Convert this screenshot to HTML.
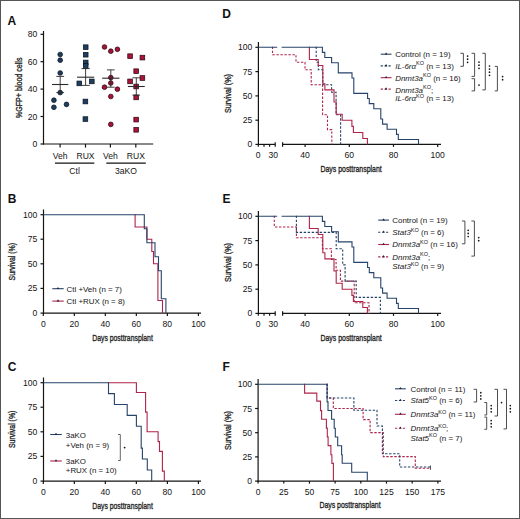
<!DOCTYPE html>
<html><head><meta charset="utf-8"><style>
html,body{margin:0;padding:0;background:#fff;overflow:hidden;width:520px;height:519px;}
svg{display:block;font-family:"Liberation Sans", sans-serif;}
</style></head><body>
<svg width="520" height="519" viewBox="0 0 520 519">
<rect x="0.5" y="0.5" width="519" height="518" fill="#fff" stroke="#555" stroke-width="1"/>
<text x="7.6" y="24.5" font-size="12" text-anchor="start" fill="#111" font-weight="bold" font-style="normal" >A</text>
<line x1="43.5" y1="31.0" x2="43.5" y2="144.5" stroke="#141414" stroke-width="1.2" />
<line x1="40.5" y1="34.3" x2="43.5" y2="34.3" stroke="#141414" stroke-width="1.2" />
<text x="37.4" y="37.3" font-size="8.6" text-anchor="end" fill="#151515" font-weight="normal" font-style="normal" >80</text>
<line x1="40.5" y1="61.7" x2="43.5" y2="61.7" stroke="#141414" stroke-width="1.2" />
<text x="37.4" y="64.7" font-size="8.6" text-anchor="end" fill="#151515" font-weight="normal" font-style="normal" >60</text>
<line x1="40.5" y1="89.1" x2="43.5" y2="89.1" stroke="#141414" stroke-width="1.2" />
<text x="37.4" y="92.1" font-size="8.6" text-anchor="end" fill="#151515" font-weight="normal" font-style="normal" >40</text>
<line x1="40.5" y1="116.5" x2="43.5" y2="116.5" stroke="#141414" stroke-width="1.2" />
<text x="37.4" y="119.5" font-size="8.6" text-anchor="end" fill="#151515" font-weight="normal" font-style="normal" >20</text>
<line x1="40.5" y1="144" x2="43.5" y2="144" stroke="#141414" stroke-width="1.2" />
<text x="37.4" y="147.0" font-size="8.6" text-anchor="end" fill="#151515" font-weight="normal" font-style="normal" >0</text>
<line x1="43.0" y1="144" x2="153.2" y2="144" stroke="#141414" stroke-width="1.2" />
<line x1="60.1" y1="144" x2="60.1" y2="147.6" stroke="#141414" stroke-width="1.2" />
<line x1="85.5" y1="144" x2="85.5" y2="147.6" stroke="#141414" stroke-width="1.2" />
<line x1="110.4" y1="144" x2="110.4" y2="147.6" stroke="#141414" stroke-width="1.2" />
<line x1="135.8" y1="144" x2="135.8" y2="147.6" stroke="#141414" stroke-width="1.2" />
<text x="60.1" y="158.5" font-size="8.6" text-anchor="middle" fill="#151515" font-weight="normal" font-style="normal" >Veh</text>
<text x="85.5" y="158.5" font-size="8.6" text-anchor="middle" fill="#151515" font-weight="normal" font-style="normal" >RUX</text>
<text x="110.4" y="158.5" font-size="8.6" text-anchor="middle" fill="#151515" font-weight="normal" font-style="normal" >Veh</text>
<text x="135.8" y="158.5" font-size="8.6" text-anchor="middle" fill="#151515" font-weight="normal" font-style="normal" >RUX</text>
<line x1="55" y1="163.1" x2="94.3" y2="163.1" stroke="#141414" stroke-width="1.2" />
<line x1="106.3" y1="163.1" x2="145.8" y2="163.1" stroke="#141414" stroke-width="1.2" />
<text x="74.6" y="173.5" font-size="8.6" text-anchor="middle" fill="#151515" font-weight="normal" font-style="normal" >Ctl</text>
<text x="126" y="173.5" font-size="8.6" text-anchor="middle" fill="#151515" font-weight="normal" font-style="normal" >3aKO</text>
<text transform="translate(21.8,87.8) rotate(-90)" x="0" y="0" font-size="9.4" font-weight="normal" text-anchor="middle" fill="#222" stroke="#222" stroke-width="0.32" textLength="60.5" lengthAdjust="spacingAndGlyphs">%GFP+ blood cells</text>
<circle cx="60.2" cy="54.5" r="2.35" fill="#1f3d5f" stroke="#08121e" stroke-width="0.75"/>
<circle cx="60.2" cy="60.2" r="2.35" fill="#1f3d5f" stroke="#08121e" stroke-width="0.75"/>
<circle cx="60.2" cy="73" r="2.35" fill="#1f3d5f" stroke="#08121e" stroke-width="0.75"/>
<circle cx="60.2" cy="92.6" r="2.35" fill="#1f3d5f" stroke="#08121e" stroke-width="0.75"/>
<circle cx="53.9" cy="100.2" r="2.35" fill="#1f3d5f" stroke="#08121e" stroke-width="0.75"/>
<circle cx="53.9" cy="107.3" r="2.35" fill="#1f3d5f" stroke="#08121e" stroke-width="0.75"/>
<circle cx="66.5" cy="104.4" r="2.35" fill="#1f3d5f" stroke="#08121e" stroke-width="0.75"/>
<line x1="60.2" y1="76.4" x2="60.2" y2="92.6" stroke="#2a2a2a" stroke-width="0.9" />
<line x1="52.1" y1="84.5" x2="68.3" y2="84.5" stroke="#2a2a2a" stroke-width="1.1" />
<line x1="56.300000000000004" y1="76.4" x2="64.10000000000001" y2="76.4" stroke="#2a2a2a" stroke-width="0.9" />
<line x1="56.300000000000004" y1="92.6" x2="64.10000000000001" y2="92.6" stroke="#2a2a2a" stroke-width="0.9" />
<rect x="83.35000000000001" y="44.85" width="4.7" height="4.7" fill="#1f3d5f" stroke="#08121e" stroke-width="0.7"/>
<rect x="83.35000000000001" y="52.35" width="4.7" height="4.7" fill="#1f3d5f" stroke="#08121e" stroke-width="0.7"/>
<rect x="83.35000000000001" y="60.15" width="4.7" height="4.7" fill="#1f3d5f" stroke="#08121e" stroke-width="0.7"/>
<rect x="83.35000000000001" y="63.65" width="4.7" height="4.7" fill="#1f3d5f" stroke="#08121e" stroke-width="0.7"/>
<rect x="76.95" y="81.05000000000001" width="4.7" height="4.7" fill="#1f3d5f" stroke="#08121e" stroke-width="0.7"/>
<rect x="89.45" y="79.05000000000001" width="4.7" height="4.7" fill="#1f3d5f" stroke="#08121e" stroke-width="0.7"/>
<rect x="83.05000000000001" y="99.15" width="4.7" height="4.7" fill="#1f3d5f" stroke="#08121e" stroke-width="0.7"/>
<rect x="83.05000000000001" y="116.75" width="4.7" height="4.7" fill="#1f3d5f" stroke="#08121e" stroke-width="0.7"/>
<line x1="85.6" y1="68.6" x2="85.6" y2="85.4" stroke="#2a2a2a" stroke-width="0.9" />
<line x1="77.05" y1="77.2" x2="94.14999999999999" y2="77.2" stroke="#2a2a2a" stroke-width="1.1" />
<line x1="81.44999999999999" y1="68.6" x2="89.75" y2="68.6" stroke="#2a2a2a" stroke-width="0.9" />
<line x1="81.44999999999999" y1="85.4" x2="89.75" y2="85.4" stroke="#2a2a2a" stroke-width="0.9" />
<circle cx="104.5" cy="47" r="2.35" fill="#a6143a" stroke="#2a0410" stroke-width="0.75"/>
<circle cx="110.8" cy="51.2" r="2.35" fill="#a6143a" stroke="#2a0410" stroke-width="0.75"/>
<circle cx="117.4" cy="49.3" r="2.35" fill="#a6143a" stroke="#2a0410" stroke-width="0.75"/>
<circle cx="110.8" cy="77.6" r="2.35" fill="#a6143a" stroke="#2a0410" stroke-width="0.75"/>
<circle cx="110.8" cy="83" r="2.35" fill="#a6143a" stroke="#2a0410" stroke-width="0.75"/>
<circle cx="104.5" cy="87.2" r="2.35" fill="#a6143a" stroke="#2a0410" stroke-width="0.75"/>
<circle cx="117.4" cy="89.2" r="2.35" fill="#a6143a" stroke="#2a0410" stroke-width="0.75"/>
<circle cx="110.8" cy="96.5" r="2.35" fill="#a6143a" stroke="#2a0410" stroke-width="0.75"/>
<circle cx="110.8" cy="124.4" r="2.35" fill="#a6143a" stroke="#2a0410" stroke-width="0.75"/>
<line x1="110.8" y1="69.9" x2="110.8" y2="87.2" stroke="#2a2a2a" stroke-width="0.9" />
<line x1="102.14999999999999" y1="78.2" x2="119.45" y2="78.2" stroke="#2a2a2a" stroke-width="1.1" />
<line x1="106.95" y1="69.9" x2="114.64999999999999" y2="69.9" stroke="#2a2a2a" stroke-width="0.9" />
<line x1="106.95" y1="87.2" x2="114.64999999999999" y2="87.2" stroke="#2a2a2a" stroke-width="0.9" />
<rect x="127.75" y="53.85" width="4.7" height="4.7" fill="#a6143a" stroke="#2a0410" stroke-width="0.7"/>
<rect x="140.05" y="55.25" width="4.7" height="4.7" fill="#a6143a" stroke="#2a0410" stroke-width="0.7"/>
<rect x="133.85" y="68.85000000000001" width="4.7" height="4.7" fill="#a6143a" stroke="#2a0410" stroke-width="0.7"/>
<rect x="140.05" y="75.65" width="4.7" height="4.7" fill="#a6143a" stroke="#2a0410" stroke-width="0.7"/>
<rect x="127.75" y="79.05000000000001" width="4.7" height="4.7" fill="#a6143a" stroke="#2a0410" stroke-width="0.7"/>
<rect x="133.85" y="84.15" width="4.7" height="4.7" fill="#a6143a" stroke="#2a0410" stroke-width="0.7"/>
<rect x="133.85" y="95.05000000000001" width="4.7" height="4.7" fill="#a6143a" stroke="#2a0410" stroke-width="0.7"/>
<rect x="133.85" y="117.25" width="4.7" height="4.7" fill="#a6143a" stroke="#2a0410" stroke-width="0.7"/>
<rect x="133.85" y="127.45000000000002" width="4.7" height="4.7" fill="#a6143a" stroke="#2a0410" stroke-width="0.7"/>
<line x1="136.3" y1="77.8" x2="136.3" y2="95.1" stroke="#2a2a2a" stroke-width="0.9" />
<line x1="127.85000000000001" y1="86.5" x2="144.75" y2="86.5" stroke="#2a2a2a" stroke-width="1.1" />
<line x1="132.45000000000002" y1="77.8" x2="140.15" y2="77.8" stroke="#2a2a2a" stroke-width="0.9" />
<line x1="132.45000000000002" y1="95.1" x2="140.15" y2="95.1" stroke="#2a2a2a" stroke-width="0.9" />
<text x="7.8" y="203" font-size="12" text-anchor="start" fill="#111" font-weight="bold" font-style="normal" >B</text>
<line x1="43.5" y1="209.5" x2="43.5" y2="313.6" stroke="#141414" stroke-width="1.2" />
<line x1="40.5" y1="214.7" x2="43.5" y2="214.7" stroke="#141414" stroke-width="1.2" />
<text x="37.4" y="217.7" font-size="8.6" text-anchor="end" fill="#151515" font-weight="normal" font-style="normal" >100</text>
<line x1="40.5" y1="239.2" x2="43.5" y2="239.2" stroke="#141414" stroke-width="1.2" />
<text x="37.4" y="242.2" font-size="8.6" text-anchor="end" fill="#151515" font-weight="normal" font-style="normal" >75</text>
<line x1="40.5" y1="263.8" x2="43.5" y2="263.8" stroke="#141414" stroke-width="1.2" />
<text x="37.4" y="266.8" font-size="8.6" text-anchor="end" fill="#151515" font-weight="normal" font-style="normal" >50</text>
<line x1="40.5" y1="288.4" x2="43.5" y2="288.4" stroke="#141414" stroke-width="1.2" />
<text x="37.4" y="291.4" font-size="8.6" text-anchor="end" fill="#151515" font-weight="normal" font-style="normal" >25</text>
<line x1="40.5" y1="313.1" x2="43.5" y2="313.1" stroke="#141414" stroke-width="1.2" />
<text x="37.4" y="316.1" font-size="8.6" text-anchor="end" fill="#151515" font-weight="normal" font-style="normal" >0</text>
<line x1="43.0" y1="313.1" x2="201" y2="313.1" stroke="#141414" stroke-width="1.2" />
<line x1="43.3" y1="313.1" x2="43.3" y2="316.1" stroke="#141414" stroke-width="1.2" />
<text x="43.3" y="327.1" font-size="8.6" text-anchor="middle" fill="#151515" font-weight="normal" font-style="normal" >0</text>
<line x1="74.32" y1="313.1" x2="74.32" y2="316.1" stroke="#141414" stroke-width="1.2" />
<text x="74.32" y="327.1" font-size="8.6" text-anchor="middle" fill="#151515" font-weight="normal" font-style="normal" >20</text>
<line x1="105.34" y1="313.1" x2="105.34" y2="316.1" stroke="#141414" stroke-width="1.2" />
<text x="105.34" y="327.1" font-size="8.6" text-anchor="middle" fill="#151515" font-weight="normal" font-style="normal" >40</text>
<line x1="136.36" y1="313.1" x2="136.36" y2="316.1" stroke="#141414" stroke-width="1.2" />
<text x="136.36" y="327.1" font-size="8.6" text-anchor="middle" fill="#151515" font-weight="normal" font-style="normal" >60</text>
<line x1="167.38" y1="313.1" x2="167.38" y2="316.1" stroke="#141414" stroke-width="1.2" />
<text x="167.38" y="327.1" font-size="8.6" text-anchor="middle" fill="#151515" font-weight="normal" font-style="normal" >80</text>
<line x1="198.39999999999998" y1="313.1" x2="198.39999999999998" y2="316.1" stroke="#141414" stroke-width="1.2" />
<text x="198.39999999999998" y="327.1" font-size="8.6" text-anchor="middle" fill="#151515" font-weight="normal" font-style="normal" >100</text>
<text x="122.5" y="341.1" font-size="9.1" font-weight="normal" text-anchor="middle" fill="#222" stroke="#222" stroke-width="0.32" textLength="60.6" lengthAdjust="spacingAndGlyphs">Days posttransplant</text>
<path d="M134.5,214.7 H135.1 V227 H146.9 V239.2 H151.8 V251.5 H153.5 V263.7 H157.9 V300.5 H162.5 V313" stroke="#ae244a" stroke-width="1.1" fill="none"/>
<path d="M43.5,214.7 H144.3 V228.7 H146.9 V242.8 H155 V256.8 H158.5 V270.7 H161.3 V298.8 H165.9 V313" stroke="#27436a" stroke-width="1.1" fill="none"/>
<text transform="translate(15.3,261.7) rotate(-90)" x="0" y="0" font-size="9.2" font-weight="normal" text-anchor="middle" fill="#222" stroke="#222" stroke-width="0.32" textLength="37.5" lengthAdjust="spacingAndGlyphs">Survival (%)</text>
<line x1="52.3" y1="288.7" x2="63.7" y2="288.7" stroke="#27436a" stroke-width="1.1" />
<line x1="52.3" y1="301.1" x2="63.7" y2="301.1" stroke="#ae244a" stroke-width="1.1" />
<path d="M58,286.9 L59.3,289 L56.7,289 Z" fill="#223"/>
<path d="M58,299.3 L59.3,301.4 L56.7,301.4 Z" fill="#223"/>
<text x="66.6" y="291.6" font-size="7.9" text-anchor="start" fill="#151515" font-weight="normal" font-style="normal" >Ctl +Veh (n = 7)</text>
<text x="66.6" y="304.0" font-size="7.9" text-anchor="start" fill="#151515" font-weight="normal" font-style="normal" >Ctl +RUX (n = 8)</text>
<text x="7.8" y="371" font-size="12" text-anchor="start" fill="#111" font-weight="bold" font-style="normal" >C</text>
<line x1="43.5" y1="377.5" x2="43.5" y2="481.6" stroke="#141414" stroke-width="1.2" />
<line x1="40.5" y1="382.7" x2="43.5" y2="382.7" stroke="#141414" stroke-width="1.2" />
<text x="37.4" y="385.7" font-size="8.6" text-anchor="end" fill="#151515" font-weight="normal" font-style="normal" >100</text>
<line x1="40.5" y1="407.2" x2="43.5" y2="407.2" stroke="#141414" stroke-width="1.2" />
<text x="37.4" y="410.2" font-size="8.6" text-anchor="end" fill="#151515" font-weight="normal" font-style="normal" >75</text>
<line x1="40.5" y1="431.8" x2="43.5" y2="431.8" stroke="#141414" stroke-width="1.2" />
<text x="37.4" y="434.8" font-size="8.6" text-anchor="end" fill="#151515" font-weight="normal" font-style="normal" >50</text>
<line x1="40.5" y1="456.4" x2="43.5" y2="456.4" stroke="#141414" stroke-width="1.2" />
<text x="37.4" y="459.4" font-size="8.6" text-anchor="end" fill="#151515" font-weight="normal" font-style="normal" >25</text>
<line x1="40.5" y1="481.1" x2="43.5" y2="481.1" stroke="#141414" stroke-width="1.2" />
<text x="37.4" y="484.1" font-size="8.6" text-anchor="end" fill="#151515" font-weight="normal" font-style="normal" >0</text>
<line x1="43.0" y1="481.1" x2="201" y2="481.1" stroke="#141414" stroke-width="1.2" />
<line x1="43.3" y1="481.1" x2="43.3" y2="484.1" stroke="#141414" stroke-width="1.2" />
<text x="43.3" y="495.1" font-size="8.6" text-anchor="middle" fill="#151515" font-weight="normal" font-style="normal" >0</text>
<line x1="74.32" y1="481.1" x2="74.32" y2="484.1" stroke="#141414" stroke-width="1.2" />
<text x="74.32" y="495.1" font-size="8.6" text-anchor="middle" fill="#151515" font-weight="normal" font-style="normal" >20</text>
<line x1="105.34" y1="481.1" x2="105.34" y2="484.1" stroke="#141414" stroke-width="1.2" />
<text x="105.34" y="495.1" font-size="8.6" text-anchor="middle" fill="#151515" font-weight="normal" font-style="normal" >40</text>
<line x1="136.36" y1="481.1" x2="136.36" y2="484.1" stroke="#141414" stroke-width="1.2" />
<text x="136.36" y="495.1" font-size="8.6" text-anchor="middle" fill="#151515" font-weight="normal" font-style="normal" >60</text>
<line x1="167.38" y1="481.1" x2="167.38" y2="484.1" stroke="#141414" stroke-width="1.2" />
<text x="167.38" y="495.1" font-size="8.6" text-anchor="middle" fill="#151515" font-weight="normal" font-style="normal" >80</text>
<line x1="198.39999999999998" y1="481.1" x2="198.39999999999998" y2="484.1" stroke="#141414" stroke-width="1.2" />
<text x="198.39999999999998" y="495.1" font-size="8.6" text-anchor="middle" fill="#151515" font-weight="normal" font-style="normal" >100</text>
<text x="122.5" y="509.1" font-size="9.1" font-weight="normal" text-anchor="middle" fill="#222" stroke="#222" stroke-width="0.32" textLength="60.6" lengthAdjust="spacingAndGlyphs">Days posttransplant</text>
<path d="M107.9,382.7 H136.4 V392.5 H145.6 V412.1 H147.1 V431.7 H158.1 V441.6 H159.5 V451.4 H162.4 V471.1 H164.3 V481" stroke="#ae244a" stroke-width="1.1" fill="none"/>
<path d="M43.5,382.7 H108.5 V393.6 H114.4 V404.5 H127.2 V415.4 H136.4 V426.3 H141.2 V448.1 H142.4 V459.0 H147.3 V470.0 H151.7 V481" stroke="#27436a" stroke-width="1.1" fill="none"/>
<text transform="translate(15.3,429.3) rotate(-90)" x="0" y="0" font-size="9.2" font-weight="normal" text-anchor="middle" fill="#222" stroke="#222" stroke-width="0.32" textLength="37.5" lengthAdjust="spacingAndGlyphs">Survival (%)</text>
<line x1="50.2" y1="434.5" x2="61.8" y2="434.5" stroke="#27436a" stroke-width="1.1" />
<line x1="50.2" y1="461" x2="61.8" y2="461" stroke="#ae244a" stroke-width="1.1" />
<path d="M56,432.7 L57.3,434.8 L54.7,434.8 Z" fill="#223"/>
<path d="M56,459.2 L57.3,461.3 L54.7,461.3 Z" fill="#223"/>
<text x="65.8" y="438" font-size="7.9" text-anchor="start" fill="#151515" font-weight="normal" font-style="normal" >3aKO</text>
<text x="65.8" y="447.5" font-size="7.9" text-anchor="start" fill="#151515" font-weight="normal" font-style="normal" >+Veh (n = 9)</text>
<text x="65.8" y="463.8" font-size="7.9" text-anchor="start" fill="#151515" font-weight="normal" font-style="normal" >3aKO</text>
<text x="65.8" y="473.2" font-size="7.9" text-anchor="start" fill="#151515" font-weight="normal" font-style="normal" >+RUX (n = 10)</text>
<path d="M118,434.5 H120.3 V460.5 H118" stroke="#555" stroke-width="0.9" fill="none"/>
<circle cx="124.6" cy="447.6" r="0.9" fill="#111"/>
<text x="222.3" y="17.7" font-size="12" text-anchor="start" fill="#111" font-weight="bold" font-style="normal" >D</text>
<line x1="258.4" y1="41.9" x2="258.4" y2="144.9" stroke="#141414" stroke-width="1.2" />
<line x1="255.39999999999998" y1="47.3" x2="258.4" y2="47.3" stroke="#141414" stroke-width="1.2" />
<text x="252.29999999999998" y="50.3" font-size="8.6" text-anchor="end" fill="#151515" font-weight="normal" font-style="normal" >100</text>
<line x1="255.39999999999998" y1="71.6" x2="258.4" y2="71.6" stroke="#141414" stroke-width="1.2" />
<text x="252.29999999999998" y="74.6" font-size="8.6" text-anchor="end" fill="#151515" font-weight="normal" font-style="normal" >75</text>
<line x1="255.39999999999998" y1="95.9" x2="258.4" y2="95.9" stroke="#141414" stroke-width="1.2" />
<text x="252.29999999999998" y="98.9" font-size="8.6" text-anchor="end" fill="#151515" font-weight="normal" font-style="normal" >50</text>
<line x1="255.39999999999998" y1="120.2" x2="258.4" y2="120.2" stroke="#141414" stroke-width="1.2" />
<text x="252.29999999999998" y="123.2" font-size="8.6" text-anchor="end" fill="#151515" font-weight="normal" font-style="normal" >25</text>
<line x1="255.39999999999998" y1="144.4" x2="258.4" y2="144.4" stroke="#141414" stroke-width="1.2" />
<text x="252.29999999999998" y="147.4" font-size="8.6" text-anchor="end" fill="#151515" font-weight="normal" font-style="normal" >0</text>
<line x1="257.9" y1="144.4" x2="275.2" y2="144.4" stroke="#141414" stroke-width="1.2" />
<line x1="258.3" y1="144.4" x2="258.3" y2="146.70000000000002" stroke="#141414" stroke-width="1.2" />
<line x1="264.0" y1="144.4" x2="264.0" y2="146.70000000000002" stroke="#141414" stroke-width="1.2" />
<line x1="269.6" y1="144.4" x2="269.6" y2="146.70000000000002" stroke="#141414" stroke-width="1.2" />
<line x1="275.2" y1="142.20000000000002" x2="275.2" y2="146.70000000000002" stroke="#141414" stroke-width="1.2" />
<line x1="282.6" y1="142.20000000000002" x2="282.6" y2="146.70000000000002" stroke="#141414" stroke-width="1.2" />
<line x1="282.6" y1="144.4" x2="441" y2="144.4" stroke="#141414" stroke-width="1.2" />
<line x1="305.1" y1="144.4" x2="305.1" y2="146.9" stroke="#141414" stroke-width="1.2" />
<line x1="349.3" y1="144.4" x2="349.3" y2="146.9" stroke="#141414" stroke-width="1.2" />
<line x1="393.5" y1="144.4" x2="393.5" y2="146.9" stroke="#141414" stroke-width="1.2" />
<line x1="437.7" y1="144.4" x2="437.7" y2="146.9" stroke="#141414" stroke-width="1.2" />
<text x="258.2" y="157.70000000000002" font-size="8.6" text-anchor="middle" fill="#151515" font-weight="normal" font-style="normal" >0</text>
<text x="273.3" y="157.70000000000002" font-size="8.6" text-anchor="middle" fill="#151515" font-weight="normal" font-style="normal" >30</text>
<text x="305.1" y="157.70000000000002" font-size="8.6" text-anchor="middle" fill="#151515" font-weight="normal" font-style="normal" >40</text>
<text x="349.3" y="157.70000000000002" font-size="8.6" text-anchor="middle" fill="#151515" font-weight="normal" font-style="normal" >60</text>
<text x="393.5" y="157.70000000000002" font-size="8.6" text-anchor="middle" fill="#151515" font-weight="normal" font-style="normal" >80</text>
<text x="437.7" y="157.70000000000002" font-size="8.6" text-anchor="middle" fill="#151515" font-weight="normal" font-style="normal" >100</text>
<text x="351.1" y="171.8" font-size="9.1" font-weight="normal" text-anchor="middle" fill="#222" stroke="#222" stroke-width="0.32" textLength="61.2" lengthAdjust="spacingAndGlyphs">Days posttransplant</text>
<path d="M271.9,47.3 H272.5 V54.8 H296 V62.3 H305 V69.8 H311.2 V84.7 H322.6 V114.7 H327.5 V129.6 H331.8 V144.4" stroke="#ae244a" stroke-width="1.1" fill="none" stroke-dasharray="2.4,1.6"/>
<path d="M315.59999999999997,47.3 H316.2 V62.3 H318.3 V69.8 H322.8 V84.7 H331.6 V92.2 H336.1 V114.7 H340.6 V144.4" stroke="#27436a" stroke-width="1.1" fill="none" stroke-dasharray="2.4,1.6"/>
<path d="M308.79999999999995,47.3 H309.4 V59.5 H318.2 V65.5 H322.8 V83.8 H324.9 V89.9 H334.0 V102.0 H336.2 V114.2 H342.2 V120.3 H351.9 V126.4 H353.4 V132.5 H362.8 V138.5 H367.4 V144.4" stroke="#ae244a" stroke-width="1.1" fill="none"/>
<path d="M258.4,47.3 H322.4 V52.4 H324.8 V57.5 H331.6 V62.7 H338.3 V72.9 H352 V78.0 H353.8 V93.4 H367.6 V98.5 H369.3 V103.6 H373.8 V108.8 H380.8 V119.0 H382.6 V124.1 H387.1 V129.3 H396.5 V134.4 H398.3 V139.5 H418.5 V144.4" stroke="#27436a" stroke-width="1.1" fill="none"/>
<rect x="277.2" y="44" width="4.4" height="6" fill="#fff"/>
<text transform="translate(230.6,93.5) rotate(-90)" x="0" y="0" font-size="9.2" font-weight="normal" text-anchor="middle" fill="#222" stroke="#222" stroke-width="0.32" textLength="39" lengthAdjust="spacingAndGlyphs">Survival (%)</text>
<line x1="380.7" y1="54.2" x2="391.5" y2="54.2" stroke="#27436a" stroke-width="1.1" />
<path d="M386.09999999999997,52.400000000000006 L387.4,54.5 L384.8,54.5 Z" fill="#223"/>
<text x="395.2" y="56.8" font-size="7.95" fill="#151515"><tspan>Control (n = 19)</tspan></text>
<line x1="380.7" y1="65.9" x2="391.5" y2="65.9" stroke="#27436a" stroke-width="1.1" stroke-dasharray="2.2,1.7"/>
<path d="M386.09999999999997,64.10000000000001 L387.4,66.2 L384.8,66.2 Z" fill="#223"/>
<text x="395.2" y="68.6" font-size="7.95" fill="#151515"><tspan font-style="italic">IL-6rα</tspan><tspan font-size="5.5" dy="-3.3">KO</tspan><tspan dy="3.3"> </tspan><tspan>(n = 13)</tspan></text>
<line x1="380.7" y1="77.7" x2="391.5" y2="77.7" stroke="#ae244a" stroke-width="1.1" />
<path d="M386.09999999999997,75.9 L387.4,78.0 L384.8,78.0 Z" fill="#223"/>
<text x="395.2" y="80.6" font-size="7.95" fill="#151515"><tspan font-style="italic">Dnmt3a</tspan><tspan font-size="5.5" dy="-3.3">KO</tspan><tspan dy="3.3"> </tspan><tspan>(n = 16)</tspan></text>
<line x1="380.7" y1="89.1" x2="391.5" y2="89.1" stroke="#ae244a" stroke-width="1.1" stroke-dasharray="2.2,1.7"/>
<path d="M386.09999999999997,87.3 L387.4,89.39999999999999 L384.8,89.39999999999999 Z" fill="#223"/>
<text x="395.2" y="92.5" font-size="7.95" fill="#151515"><tspan font-style="italic">Dnmt3a</tspan><tspan font-size="5.5" dy="-3.3">KO</tspan><tspan dy="3.3"> </tspan></text>
<text x="431.0" y="92.5" font-size="7.95" fill="#151515"><tspan>;</tspan></text>
<text x="395.2" y="101.4" font-size="7.95" fill="#151515"><tspan font-style="italic">IL-6rα</tspan><tspan font-size="5.5" dy="-3.3">KO</tspan><tspan dy="3.3"> </tspan><tspan>(n = 13)</tspan></text>
<path d="M460.4,53.3 H463.4 V66.3 H460.4" stroke="#3a3a3a" stroke-width="0.9" fill="none"/>
<circle cx="467.6" cy="56.1" r="0.85" fill="#111"/>
<circle cx="467.6" cy="59.2" r="0.85" fill="#111"/>
<circle cx="467.6" cy="62.300000000000004" r="0.85" fill="#111"/>
<path d="M471.6,53.3 H474.6 V76.4 H471.6" stroke="#3a3a3a" stroke-width="0.9" fill="none"/>
<circle cx="479.0" cy="62.1" r="0.85" fill="#111"/>
<circle cx="479.0" cy="65.2" r="0.85" fill="#111"/>
<circle cx="479.0" cy="68.3" r="0.85" fill="#111"/>
<path d="M471.6,78.7 H474.6 V90.9 H471.6" stroke="#3a3a3a" stroke-width="0.9" fill="none"/>
<circle cx="479.0" cy="85.1" r="0.85" fill="#111"/>
<path d="M482.3,53.3 H485.3 V89.9 H482.3" stroke="#3a3a3a" stroke-width="0.9" fill="none"/>
<circle cx="489.5" cy="66.0" r="0.85" fill="#111"/>
<circle cx="489.5" cy="69.1" r="0.85" fill="#111"/>
<circle cx="489.5" cy="72.2" r="0.85" fill="#111"/>
<circle cx="489.5" cy="75.3" r="0.85" fill="#111"/>
<path d="M494.79999999999995,66.4 H497.4 V90.9 H494.79999999999995" stroke="#3a3a3a" stroke-width="0.9" fill="none"/>
<circle cx="502.6" cy="76.6" r="0.85" fill="#111"/>
<circle cx="502.6" cy="79.69999999999999" r="0.85" fill="#111"/>
<text x="222.5" y="202.7" font-size="12" text-anchor="start" fill="#111" font-weight="bold" font-style="normal" >E</text>
<line x1="258.4" y1="210.9" x2="258.4" y2="313.9" stroke="#141414" stroke-width="1.2" />
<line x1="255.39999999999998" y1="216.3" x2="258.4" y2="216.3" stroke="#141414" stroke-width="1.2" />
<text x="252.29999999999998" y="219.3" font-size="8.6" text-anchor="end" fill="#151515" font-weight="normal" font-style="normal" >100</text>
<line x1="255.39999999999998" y1="240.6" x2="258.4" y2="240.6" stroke="#141414" stroke-width="1.2" />
<text x="252.29999999999998" y="243.6" font-size="8.6" text-anchor="end" fill="#151515" font-weight="normal" font-style="normal" >75</text>
<line x1="255.39999999999998" y1="264.9" x2="258.4" y2="264.9" stroke="#141414" stroke-width="1.2" />
<text x="252.29999999999998" y="267.9" font-size="8.6" text-anchor="end" fill="#151515" font-weight="normal" font-style="normal" >50</text>
<line x1="255.39999999999998" y1="289.2" x2="258.4" y2="289.2" stroke="#141414" stroke-width="1.2" />
<text x="252.29999999999998" y="292.2" font-size="8.6" text-anchor="end" fill="#151515" font-weight="normal" font-style="normal" >25</text>
<line x1="255.39999999999998" y1="313.4" x2="258.4" y2="313.4" stroke="#141414" stroke-width="1.2" />
<text x="252.29999999999998" y="316.4" font-size="8.6" text-anchor="end" fill="#151515" font-weight="normal" font-style="normal" >0</text>
<line x1="257.9" y1="313.4" x2="275.2" y2="313.4" stroke="#141414" stroke-width="1.2" />
<line x1="258.3" y1="313.4" x2="258.3" y2="315.7" stroke="#141414" stroke-width="1.2" />
<line x1="264.0" y1="313.4" x2="264.0" y2="315.7" stroke="#141414" stroke-width="1.2" />
<line x1="269.6" y1="313.4" x2="269.6" y2="315.7" stroke="#141414" stroke-width="1.2" />
<line x1="275.2" y1="311.2" x2="275.2" y2="315.7" stroke="#141414" stroke-width="1.2" />
<line x1="282.6" y1="311.2" x2="282.6" y2="315.7" stroke="#141414" stroke-width="1.2" />
<line x1="282.6" y1="313.4" x2="441" y2="313.4" stroke="#141414" stroke-width="1.2" />
<line x1="305.1" y1="313.4" x2="305.1" y2="315.9" stroke="#141414" stroke-width="1.2" />
<line x1="349.3" y1="313.4" x2="349.3" y2="315.9" stroke="#141414" stroke-width="1.2" />
<line x1="393.5" y1="313.4" x2="393.5" y2="315.9" stroke="#141414" stroke-width="1.2" />
<line x1="437.7" y1="313.4" x2="437.7" y2="315.9" stroke="#141414" stroke-width="1.2" />
<text x="258.2" y="326.7" font-size="8.6" text-anchor="middle" fill="#151515" font-weight="normal" font-style="normal" >0</text>
<text x="273.3" y="326.7" font-size="8.6" text-anchor="middle" fill="#151515" font-weight="normal" font-style="normal" >30</text>
<text x="305.1" y="326.7" font-size="8.6" text-anchor="middle" fill="#151515" font-weight="normal" font-style="normal" >40</text>
<text x="349.3" y="326.7" font-size="8.6" text-anchor="middle" fill="#151515" font-weight="normal" font-style="normal" >60</text>
<text x="393.5" y="326.7" font-size="8.6" text-anchor="middle" fill="#151515" font-weight="normal" font-style="normal" >80</text>
<text x="437.7" y="326.7" font-size="8.6" text-anchor="middle" fill="#151515" font-weight="normal" font-style="normal" >100</text>
<text x="351.1" y="340.79999999999995" font-size="9.1" font-weight="normal" text-anchor="middle" fill="#222" stroke="#222" stroke-width="0.32" textLength="61.2" lengthAdjust="spacingAndGlyphs">Days posttransplant</text>
<path d="M273.7,216.3 H274.3 V227.0 H296.4 V237.8 H322.4 V248.7 H331.4 V259.5 H336.1 V270.3 H340.4 V281.1 H354.2 V302.8 H369.0 V313.4" stroke="#ae244a" stroke-width="1.1" fill="none" stroke-dasharray="2.4,1.6"/>
<path d="M295.79999999999995,216.3 H296.4 V232.4 H336.2 V248.7 H342.7 V264.9 H345.1 V281.1 H356.2 V297.4 H380.4 V313.4" stroke="#27436a" stroke-width="1.1" fill="none" stroke-dasharray="2.4,1.6"/>
<path d="M308.79999999999995,216.3 H309.4 V228.5 H318.2 V234.5 H322.8 V252.8 H324.9 V258.9 H334.0 V271.0 H336.2 V283.2 H342.2 V289.3 H351.9 V295.4 H353.4 V301.5 H362.8 V307.5 H367.4 V313.4" stroke="#ae244a" stroke-width="1.1" fill="none"/>
<path d="M258.4,216.3 H322.4 V221.4 H324.8 V226.5 H331.6 V231.7 H338.3 V241.9 H352 V247.0 H353.8 V262.4 H367.6 V267.5 H369.3 V272.6 H373.8 V277.8 H380.8 V288.0 H382.6 V293.1 H387.1 V298.3 H396.5 V303.4 H398.3 V308.5 H418.5 V313.4" stroke="#27436a" stroke-width="1.1" fill="none"/>
<rect x="277.2" y="213" width="4.4" height="6" fill="#fff"/>
<text transform="translate(230.6,262.5) rotate(-90)" x="0" y="0" font-size="9.2" font-weight="normal" text-anchor="middle" fill="#222" stroke="#222" stroke-width="0.32" textLength="39" lengthAdjust="spacingAndGlyphs">Survival (%)</text>
<line x1="378.2" y1="220.1" x2="389.0" y2="220.1" stroke="#27436a" stroke-width="1.1" />
<path d="M383.59999999999997,218.29999999999998 L384.9,220.4 L382.3,220.4 Z" fill="#223"/>
<text x="392.3" y="222.8" font-size="7.95" fill="#151515"><tspan>Control (n = 19)</tspan></text>
<line x1="378.2" y1="232.2" x2="389.0" y2="232.2" stroke="#27436a" stroke-width="1.1" stroke-dasharray="2.2,1.7"/>
<path d="M383.59999999999997,230.39999999999998 L384.9,232.5 L382.3,232.5 Z" fill="#223"/>
<text x="392.3" y="234.9" font-size="7.95" fill="#151515"><tspan font-style="italic">Stat3</tspan><tspan font-size="5.5" dy="-3.3">KO</tspan><tspan dy="3.3"> </tspan><tspan>(n = 6)</tspan></text>
<line x1="378.2" y1="244.5" x2="389.0" y2="244.5" stroke="#ae244a" stroke-width="1.1" />
<path d="M383.59999999999997,242.7 L384.9,244.8 L382.3,244.8 Z" fill="#223"/>
<text x="392.3" y="247.2" font-size="7.95" fill="#151515"><tspan font-style="italic">Dnmt3a</tspan><tspan font-size="5.5" dy="-3.3">KO</tspan><tspan dy="3.3"> </tspan><tspan>(n = 16)</tspan></text>
<line x1="378.2" y1="256.9" x2="389.0" y2="256.9" stroke="#ae244a" stroke-width="1.1" stroke-dasharray="2.2,1.7"/>
<path d="M383.59999999999997,255.09999999999997 L384.9,257.2 L382.3,257.2 Z" fill="#223"/>
<text x="392.3" y="259.6" font-size="7.95" fill="#151515"><tspan font-style="italic">Dnmt3a</tspan><tspan font-size="5.5" dy="-3.3">KO</tspan><tspan dy="3.3"> </tspan></text>
<text x="428.0" y="259.6" font-size="7.95" fill="#151515"><tspan>;</tspan></text>
<text x="392.3" y="269.2" font-size="7.95" fill="#151515"><tspan font-style="italic">Stat3</tspan><tspan font-size="5.5" dy="-3.3">KO</tspan><tspan dy="3.3"> </tspan><tspan>(n = 9)</tspan></text>
<path d="M461.9,221.0 H464.9 V243.8 H461.9" stroke="#3a3a3a" stroke-width="0.9" fill="none"/>
<circle cx="468.2" cy="230.3" r="0.85" fill="#111"/>
<circle cx="468.2" cy="233.4" r="0.85" fill="#111"/>
<circle cx="468.2" cy="236.5" r="0.85" fill="#111"/>
<path d="M471.4,221.0 H474.4 V256.1 H471.4" stroke="#3a3a3a" stroke-width="0.9" fill="none"/>
<circle cx="478.7" cy="237.6" r="0.85" fill="#111"/>
<circle cx="478.7" cy="240.7" r="0.85" fill="#111"/>
<text x="222.5" y="370.8" font-size="12" text-anchor="start" fill="#111" font-weight="bold" font-style="normal" >F</text>
<line x1="258.1" y1="379.1" x2="258.1" y2="481.6" stroke="#141414" stroke-width="1.2" />
<line x1="255.10000000000002" y1="384.3" x2="258.1" y2="384.3" stroke="#141414" stroke-width="1.2" />
<text x="252.00000000000003" y="387.3" font-size="8.6" text-anchor="end" fill="#151515" font-weight="normal" font-style="normal" >100</text>
<line x1="255.10000000000002" y1="408.5" x2="258.1" y2="408.5" stroke="#141414" stroke-width="1.2" />
<text x="252.00000000000003" y="411.5" font-size="8.6" text-anchor="end" fill="#151515" font-weight="normal" font-style="normal" >75</text>
<line x1="255.10000000000002" y1="432.7" x2="258.1" y2="432.7" stroke="#141414" stroke-width="1.2" />
<text x="252.00000000000003" y="435.7" font-size="8.6" text-anchor="end" fill="#151515" font-weight="normal" font-style="normal" >50</text>
<line x1="255.10000000000002" y1="456.9" x2="258.1" y2="456.9" stroke="#141414" stroke-width="1.2" />
<text x="252.00000000000003" y="459.9" font-size="8.6" text-anchor="end" fill="#151515" font-weight="normal" font-style="normal" >25</text>
<line x1="255.10000000000002" y1="481.1" x2="258.1" y2="481.1" stroke="#141414" stroke-width="1.2" />
<text x="252.00000000000003" y="484.1" font-size="8.6" text-anchor="end" fill="#151515" font-weight="normal" font-style="normal" >0</text>
<line x1="257.6" y1="481.1" x2="441" y2="481.1" stroke="#141414" stroke-width="1.2" />
<line x1="258.1" y1="481.1" x2="258.1" y2="483.6" stroke="#141414" stroke-width="1.2" />
<text x="258.1" y="494.8" font-size="8.6" text-anchor="middle" fill="#151515" font-weight="normal" font-style="normal" >0</text>
<line x1="283.78000000000003" y1="481.1" x2="283.78000000000003" y2="483.6" stroke="#141414" stroke-width="1.2" />
<text x="283.78000000000003" y="494.8" font-size="8.6" text-anchor="middle" fill="#151515" font-weight="normal" font-style="normal" >25</text>
<line x1="309.46000000000004" y1="481.1" x2="309.46000000000004" y2="483.6" stroke="#141414" stroke-width="1.2" />
<text x="309.46000000000004" y="494.8" font-size="8.6" text-anchor="middle" fill="#151515" font-weight="normal" font-style="normal" >50</text>
<line x1="335.14" y1="481.1" x2="335.14" y2="483.6" stroke="#141414" stroke-width="1.2" />
<text x="335.14" y="494.8" font-size="8.6" text-anchor="middle" fill="#151515" font-weight="normal" font-style="normal" >75</text>
<line x1="360.82000000000005" y1="481.1" x2="360.82000000000005" y2="483.6" stroke="#141414" stroke-width="1.2" />
<text x="360.82000000000005" y="494.8" font-size="8.6" text-anchor="middle" fill="#151515" font-weight="normal" font-style="normal" >100</text>
<line x1="386.5" y1="481.1" x2="386.5" y2="483.6" stroke="#141414" stroke-width="1.2" />
<text x="386.5" y="494.8" font-size="8.6" text-anchor="middle" fill="#151515" font-weight="normal" font-style="normal" >125</text>
<line x1="412.18" y1="481.1" x2="412.18" y2="483.6" stroke="#141414" stroke-width="1.2" />
<text x="412.18" y="494.8" font-size="8.6" text-anchor="middle" fill="#151515" font-weight="normal" font-style="normal" >150</text>
<line x1="437.86" y1="481.1" x2="437.86" y2="483.6" stroke="#141414" stroke-width="1.2" />
<text x="437.86" y="494.8" font-size="8.6" text-anchor="middle" fill="#151515" font-weight="normal" font-style="normal" >175</text>
<text x="350.0" y="508.40000000000003" font-size="9.1" font-weight="normal" text-anchor="middle" fill="#222" stroke="#222" stroke-width="0.32" textLength="61.2" lengthAdjust="spacingAndGlyphs">Days posttransplant</text>
<path d="M326.59999999999997,384.3 H327.2 V398.0 H333.3 V408.5 H363.1 V419.6 H370.1 V432.6 H383.3 V456.6 H415.3 V468.2 H430.2" stroke="#ae244a" stroke-width="1.1" fill="none" stroke-dasharray="2.4,1.6"/>
<path d="M326.59999999999997,384.3 H327.2 V398.0 H353.9 V410.2 H377.0 V426.0 H382.4 V453.8 H399.7 V467.0 H430.6" stroke="#27436a" stroke-width="1.1" fill="none" stroke-dasharray="2.4,1.6"/>
<path d="M304.0,384.3 H304.6 V393.1 H316.8 V401.1 H320.5 V410.6 H321.6 V419.3 H326.4 V428.1 H327.3 V436.9 H328.1 V445.6 H330.9 V454.8 H331.9 V463.4 H333.4 V481.1" stroke="#ae244a" stroke-width="1.1" fill="none"/>
<path d="M258.1,384.3 H327.1 V401.9 H328.0 V410.5 H331.6 V419.3 H334.2 V428.2 H335.3 V437.0 H337.7 V445.7 H341.6 V454.7 H342.2 V463.3 H351.7 V472.2 H367.3 V481.1" stroke="#27436a" stroke-width="1.1" fill="none"/>
<line x1="430.4" y1="465.5" x2="430.4" y2="469.8" stroke="#333" stroke-width="0.9" />
<text transform="translate(230.6,430.5) rotate(-90)" x="0" y="0" font-size="9.2" font-weight="normal" text-anchor="middle" fill="#222" stroke="#222" stroke-width="0.32" textLength="39" lengthAdjust="spacingAndGlyphs">Survival (%)</text>
<line x1="395.0" y1="388.8" x2="405.8" y2="388.8" stroke="#27436a" stroke-width="1.1" />
<path d="M400.4,387.0 L401.7,389.1 L399.1,389.1 Z" fill="#223"/>
<text x="410.5" y="391.5" font-size="7.95" fill="#151515"><tspan>Control (n = 11)</tspan></text>
<line x1="395.0" y1="400.5" x2="405.8" y2="400.5" stroke="#27436a" stroke-width="1.1" stroke-dasharray="2.2,1.7"/>
<path d="M400.4,398.7 L401.7,400.8 L399.1,400.8 Z" fill="#223"/>
<text x="410.5" y="403.2" font-size="7.95" fill="#151515"><tspan font-style="italic">Stat5</tspan><tspan font-size="5.5" dy="-3.3">KO</tspan><tspan dy="3.3"> </tspan><tspan>(n = 6)</tspan></text>
<line x1="395.0" y1="414.3" x2="405.8" y2="414.3" stroke="#ae244a" stroke-width="1.1" />
<path d="M400.4,412.5 L401.7,414.6 L399.1,414.6 Z" fill="#223"/>
<text x="410.5" y="417.0" font-size="7.95" fill="#151515"><tspan font-style="italic">Dnmt3a</tspan><tspan font-size="5.5" dy="-3.3">KO</tspan><tspan dy="3.3"> </tspan><tspan>(n = 11)</tspan></text>
<line x1="395.0" y1="428.3" x2="405.8" y2="428.3" stroke="#ae244a" stroke-width="1.1" stroke-dasharray="2.2,1.7"/>
<path d="M400.4,426.5 L401.7,428.6 L399.1,428.6 Z" fill="#223"/>
<text x="410.5" y="431.0" font-size="7.95" fill="#151515"><tspan font-style="italic">Dnmt3a</tspan><tspan font-size="5.5" dy="-3.3">KO</tspan><tspan dy="3.3"> </tspan></text>
<text x="446.0" y="431.0" font-size="7.95" fill="#151515"><tspan>;</tspan></text>
<text x="410.5" y="440.5" font-size="7.95" fill="#151515"><tspan font-style="italic">Stat5</tspan><tspan font-size="5.5" dy="-3.3">KO</tspan><tspan dy="3.3"> </tspan><tspan>(n = 7)</tspan></text>
<path d="M473.6,389.3 H476.6 V402.0 H473.6" stroke="#3a3a3a" stroke-width="0.9" fill="none"/>
<circle cx="480.8" cy="392.7" r="0.85" fill="#111"/>
<circle cx="480.8" cy="395.8" r="0.85" fill="#111"/>
<circle cx="480.8" cy="398.9" r="0.85" fill="#111"/>
<path d="M484.3,402.5 H486.7 V415.0 H484.3" stroke="#3a3a3a" stroke-width="0.9" fill="none"/>
<circle cx="491.2" cy="405.6" r="0.85" fill="#111"/>
<circle cx="491.2" cy="408.70000000000005" r="0.85" fill="#111"/>
<circle cx="491.2" cy="411.8" r="0.85" fill="#111"/>
<path d="M484.3,417.1 H486.7 V429.3 H484.3" stroke="#3a3a3a" stroke-width="0.9" fill="none"/>
<circle cx="491.2" cy="420.6" r="0.85" fill="#111"/>
<circle cx="491.2" cy="423.70000000000005" r="0.85" fill="#111"/>
<circle cx="491.2" cy="426.8" r="0.85" fill="#111"/>
<path d="M494.5,389.3 H497.5 V416.0 H494.5" stroke="#3a3a3a" stroke-width="0.9" fill="none"/>
<circle cx="501.5" cy="402.6" r="0.85" fill="#111"/>
<path d="M503.5,389.3 H506.5 V428.9 H503.5" stroke="#3a3a3a" stroke-width="0.9" fill="none"/>
<circle cx="510.3" cy="405.6" r="0.85" fill="#111"/>
<circle cx="510.3" cy="408.70000000000005" r="0.85" fill="#111"/>
<circle cx="510.3" cy="411.8" r="0.85" fill="#111"/>
</svg>
</body></html>
